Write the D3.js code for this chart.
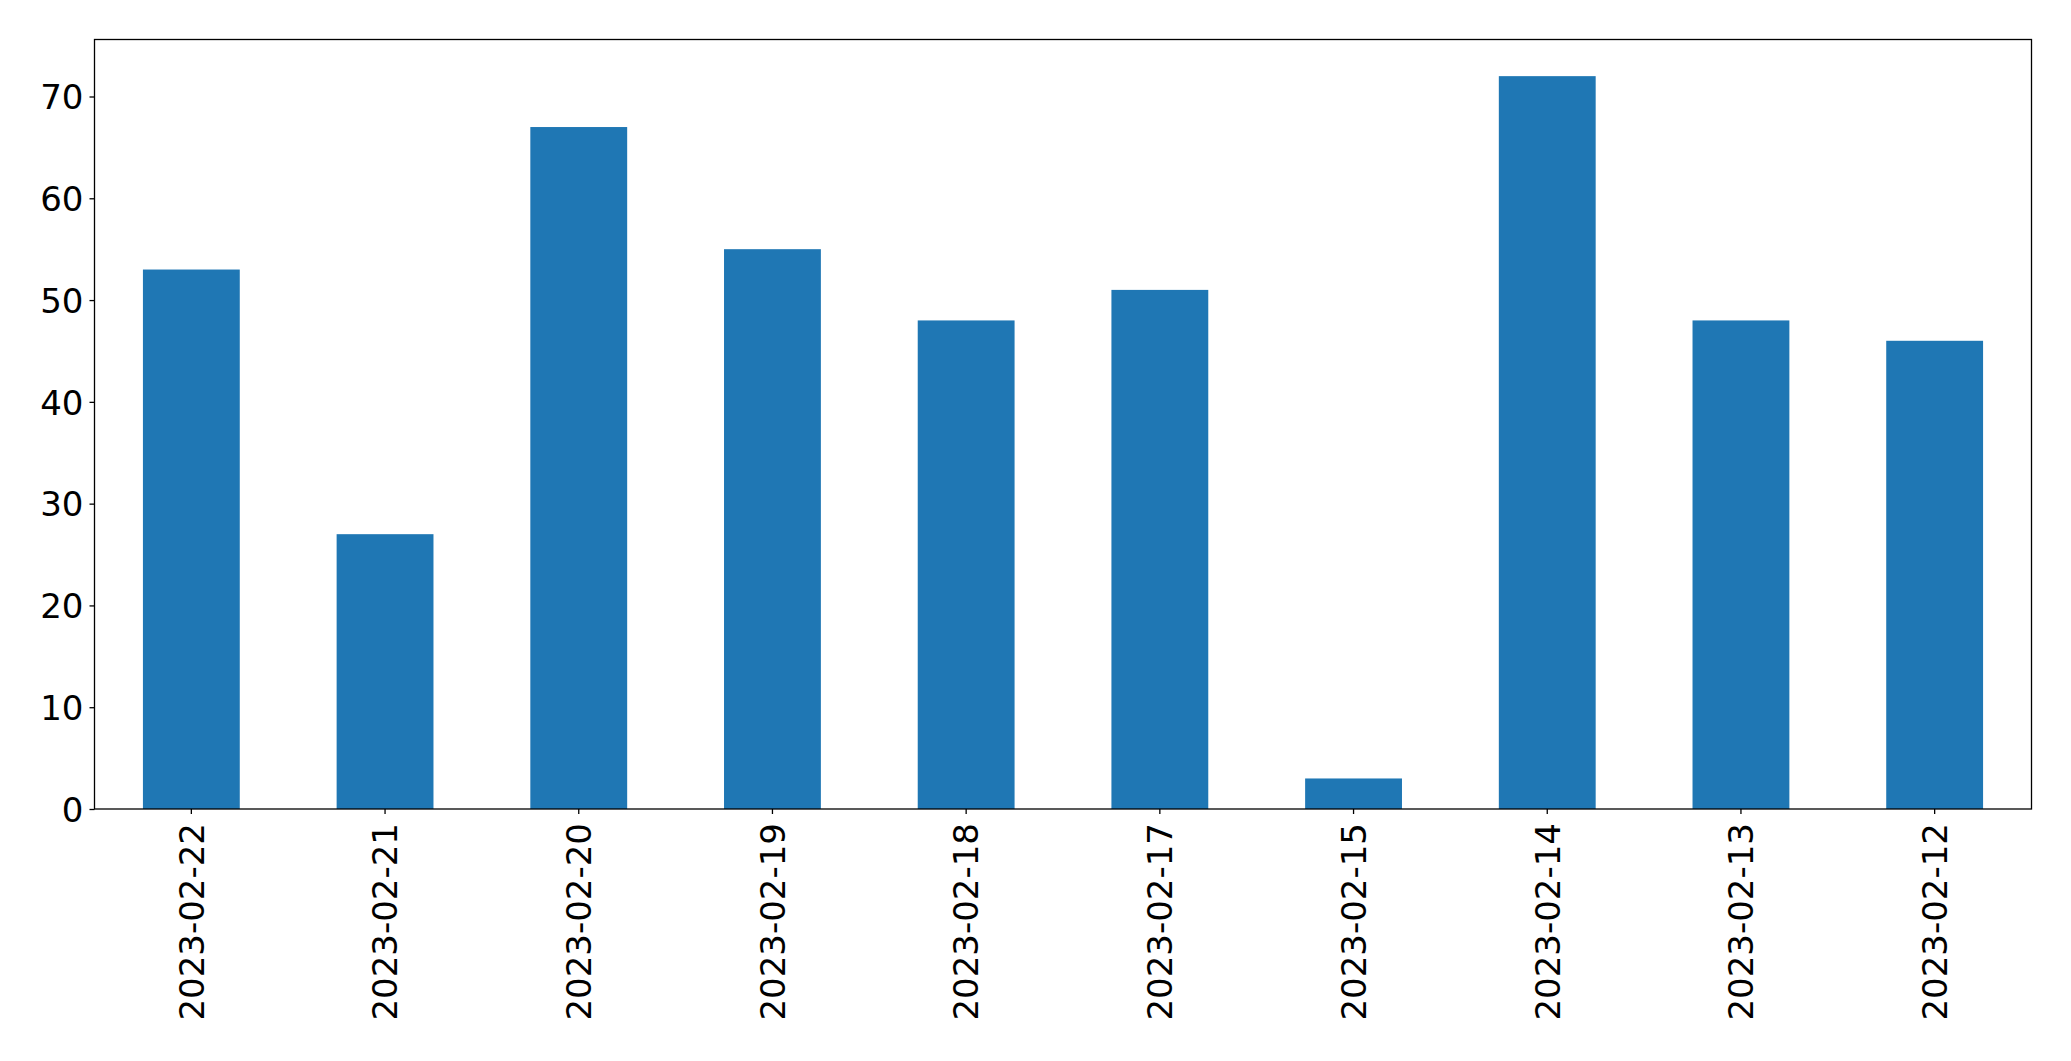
<!DOCTYPE html>
<html>
<head>
<meta charset="utf-8">
<script src="https://cdn.jsdelivr.net/npm/d3@7"></script>
<style>
  html, body { margin: 0; padding: 0; background: #fff; }
  svg { display: block; }
  text { font-family: "DejaVu Sans", sans-serif; }
</style>
</head>
<body>
<svg id="chart" width="2071" height="1061"></svg>
<script>
const categories = ["2023-02-22","2023-02-21","2023-02-20","2023-02-19","2023-02-18","2023-02-17","2023-02-15","2023-02-14","2023-02-13","2023-02-12"];
const values = [53, 27, 67, 55, 48, 51, 3, 72, 48, 46];
const yTicks = [0, 10, 20, 30, 40, 50, 60, 70];

const margin = { left: 94.5, right: 2031.5, top: 39.5, bottom: 809 };
const svg = d3.select("#chart");
const fontSize = 34;

const x = d3.scaleBand().domain(categories).range([margin.left, margin.right]).paddingInner(0.5).paddingOuter(0.25);
const yMax = d3.max(values) * 1.05;
const y = d3.scaleLinear().domain([0, yMax]).range([margin.bottom, margin.top]);

svg.append("g").selectAll("rect").data(values).join("rect")
  .attr("x", (d, i) => x(categories[i]))
  .attr("width", x.bandwidth())
  .attr("y", d => y(d))
  .attr("height", d => y(0) - y(d))
  .attr("fill", "#1f77b4");

// frame
svg.append("rect")
  .attr("x", margin.left).attr("y", margin.top)
  .attr("width", margin.right - margin.left).attr("height", margin.bottom - margin.top)
  .attr("fill", "none").attr("stroke", "#000").attr("stroke-width", 1.3);

const yAxis = svg.append("g").attr("transform", `translate(${margin.left},0)`)
  .call(d3.axisLeft(y).tickValues(yTicks).tickSize(5).tickPadding(6).tickFormat(d3.format("d")));
yAxis.select(".domain").remove();
yAxis.selectAll("line").attr("stroke", "#000").attr("stroke-width", 1.3);
yAxis.selectAll("text").attr("font-size", fontSize).attr("fill", "#000")
  .attr("font-family", "DejaVu Sans").attr("dy", "0.36em");

const xAxis = svg.append("g").attr("transform", `translate(0,${margin.bottom})`)
  .call(d3.axisBottom(x).tickSize(5).tickPadding(0));
xAxis.select(".domain").remove();
xAxis.selectAll("line").attr("stroke", "#000").attr("stroke-width", 1.3);
xAxis.selectAll("text")
  .attr("font-size", fontSize).attr("fill", "#000").attr("font-family", "DejaVu Sans")
  .attr("text-anchor", "end")
  .attr("x", 0).attr("y", 0).attr("dy", "0.36em")
  .attr("transform", "translate(0,14) rotate(-90)");
</script>
</body>
</html>
